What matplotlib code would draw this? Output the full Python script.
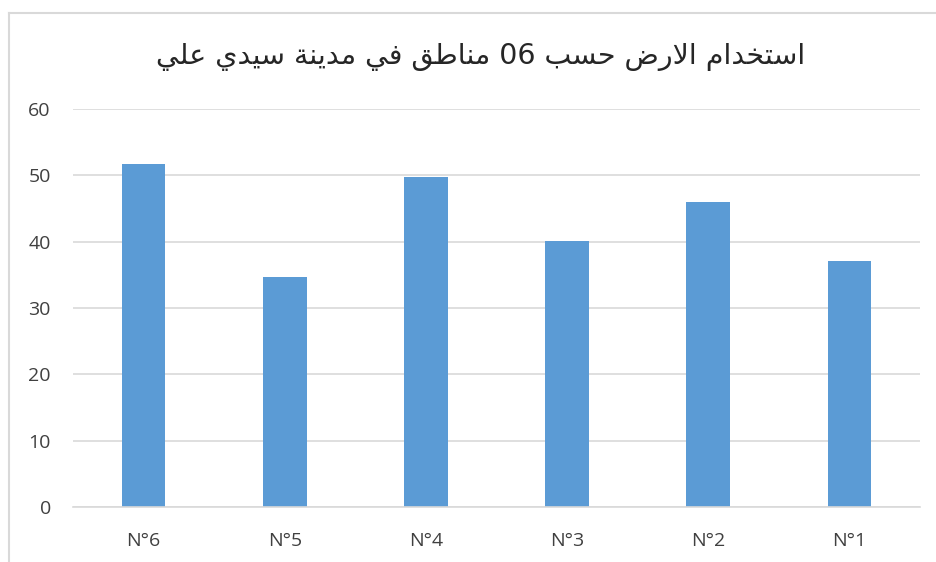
import matplotlib.pyplot as plt
from matplotlib.lines import Line2D

# بيانات المخطط
zones = ['N°6', 'N°5', 'N°4', 'N°3', 'N°2', 'N°1']
values = [51.7, 34.6, 49.7, 40.1, 46.0, 37.1]
y_ticks = [0, 10, 20, 30, 40, 50, 60]
title_ar = 'استخدام الارض حسب 06 مناطق في مدينة سيدي علي'

# أشكال الحروف العربية: (منفرد، نهائي، بدائي، وسطي)
forms = {
    'ا': ('\uFE8D', '\uFE8E', None, None),
    'ب': ('\uFE8F', '\uFE90', '\uFE91', '\uFE92'),
    'ة': ('\uFE93', '\uFE94', None, None),
    'ت': ('\uFE95', '\uFE96', '\uFE97', '\uFE98'),
    'ح': ('\uFEA1', '\uFEA2', '\uFEA3', '\uFEA4'),
    'خ': ('\uFEA5', '\uFEA6', '\uFEA7', '\uFEA8'),
    'د': ('\uFEA9', '\uFEAA', None, None),
    'ر': ('\uFEAD', '\uFEAE', None, None),
    'س': ('\uFEB1', '\uFEB2', '\uFEB3', '\uFEB4'),
    'ض': ('\uFEBD', '\uFEBE', '\uFEBF', '\uFEC0'),
    'ط': ('\uFEC1', '\uFEC2', '\uFEC3', '\uFEC4'),
    'ع': ('\uFEC9', '\uFECA', '\uFECB', '\uFECC'),
    'ف': ('\uFED1', '\uFED2', '\uFED3', '\uFED4'),
    'ق': ('\uFED5', '\uFED6', '\uFED7', '\uFED8'),
    'ل': ('\uFEDD', '\uFEDE', '\uFEDF', '\uFEE0'),
    'م': ('\uFEE1', '\uFEE2', '\uFEE3', '\uFEE4'),
    'ن': ('\uFEE5', '\uFEE6', '\uFEE7', '\uFEE8'),
    'ي': ('\uFEF1', '\uFEF2', '\uFEF3', '\uFEF4'),
    'لا': ('\uFEFB', '\uFEFC', None, None),
}


def shape_arabic(text):
    # لام ألف
    chars = []
    i = 0
    while i < len(text):
        if text[i:i + 2] == 'لا':
            chars.append('لا')
            i += 2
        else:
            chars.append(text[i])
            i += 1

    def joins_next(c):
        return c in forms and forms[c][2] is not None

    out = []
    for k, c in enumerate(chars):
        if c not in forms:
            out.append(c)
            continue
        prev_j = k > 0 and joins_next(chars[k - 1])
        next_j = k + 1 < len(chars) and chars[k + 1] in forms and joins_next(c)
        iso, fin, ini, med = forms[c]
        if prev_j and next_j:
            out.append(med)
        elif prev_j:
            out.append(fin)
        elif next_j:
            out.append(ini)
        else:
            out.append(iso)

    # ترتيب بصري من اليسار لليمين مع إبقاء الأرقام كما هي
    visual = ''.join(out)[::-1]
    result = ''
    run = ''
    for c in visual:
        if c.isdigit():
            run += c
        else:
            result += run[::-1] + c
            run = ''
    return result + run[::-1]


fig = plt.figure(figsize=(9.36, 5.62), dpi=100)
ax = fig.add_axes([0.078, 0.098, 0.905, 0.708])

ax.bar(range(len(zones)), values, width=0.31, color='#5B9BD5', zorder=2)

ax.set_xlim(-0.5, len(zones) - 0.5)
ax.set_ylim(0, 60)
ax.set_yticks(y_ticks)
ax.set_xticks(range(len(zones)))
ax.set_xticklabels(zones)
ax.grid(axis='y', color='#d9d9d9', linewidth=1.2, zorder=0)
for s in ['top', 'right', 'left']:
    ax.spines[s].set_visible(False)
ax.spines['bottom'].set_color('#d9d9d9')
ax.spines['bottom'].set_linewidth(1.2)
ax.tick_params(axis='both', length=0, labelsize=14, labelcolor='#404040')
ax.tick_params(axis='y', pad=16)
ax.tick_params(axis='x', pad=18)
for lab in ax.get_xticklabels() + ax.get_yticklabels():
    lab.set_family('Open Sans')

fig.text(0.513, 0.898, shape_arabic(title_ar), ha='center', va='center',
         fontsize=20.5, color='#262626', family='DejaVu Sans')

# إطار المخطط
fig.add_artist(Line2D([0.0097, 0.0097], [0, 0.977], color='#d9d9d9', linewidth=1.5))
fig.add_artist(Line2D([0.0097, 1.0], [0.977, 0.977], color='#d9d9d9', linewidth=1.5))

plt.savefig('out.png', dpi=100)
